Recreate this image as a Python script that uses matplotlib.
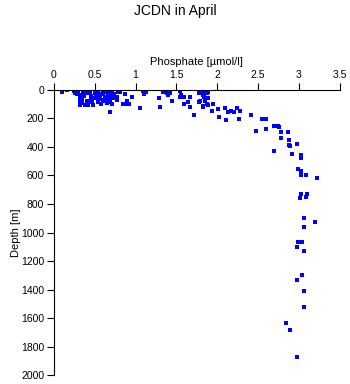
import matplotlib
matplotlib.use("Agg")
import matplotlib.pyplot as plt

# phosphate [umol/l] and depth [m]
phosphate = [0.10, 0.16, 0.24, 0.26, 0.30, 0.32, 0.32, 0.32, 0.32, 0.38, 0.42, 0.43, 0.48,
             0.36, 0.40, 0.44, 0.46, 0.50, 0.54, 0.52, 0.56, 0.54, 0.58, 0.60, 0.62, 0.65,
             0.65, 0.66, 0.69, 0.69, 0.71, 0.71, 0.73, 0.77, 0.77, 0.79, 0.81, 0.69, 0.87,
             0.90, 0.84, 0.89, 0.92, 0.95, 1.05, 1.09, 1.10, 1.13, 1.29, 1.30, 1.34, 1.38,
             1.40, 1.42, 1.44, 1.54, 1.56, 1.54, 1.59, 1.59, 1.66, 1.64, 1.66, 1.71, 1.77,
             1.77, 1.82, 0.28, 0.34, 0.37, 0.45, 0.48, 0.52, 0.57, 0.60, 0.63, 0.67, 0.70,
             0.74, 0.35, 0.41, 0.47, 0.55, 0.58, 0.62, 0.68, 0.72, 0.30, 0.50, 0.66,
             1.83, 1.89, 1.82, 1.88, 1.84, 1.89, 1.85, 1.79, 1.87, 1.89, 1.82, 1.95, 2.01,
             1.93, 2.09, 2.02, 2.11, 2.13, 2.17, 2.21, 2.24, 2.28, 2.26, 2.41, 2.47, 2.55,
             2.59, 2.59, 2.70, 2.74, 2.76, 2.78, 2.86, 2.78, 2.70, 2.88, 2.88, 2.89, 2.98,
             2.92, 3.03, 3.03, 2.99, 3.03, 3.03, 3.09, 3.22, 3.03, 3.10, 3.01, 3.09, 3.06,
             3.19, 3.06, 2.99, 3.04, 2.98, 3.06, 3.04, 2.98, 3.06, 3.06, 2.84, 2.89, 2.97]
depth = [14, 2, 7, 19, 7, 35, 54, 82, 103, 103, 103, 82, 103,
         12, 23, 12, 42, 23, 12, 58, 47, 82, 98, 23, 58, 12,
         93, 35, 58, 82, 98, 12, 28, 47, 70, 16, 16, 152, 30,
         75, 100, 100, 100, 51, 129, 5, 28, 16, 54, 121, 12, 23,
         35, 19, 77, 5, 35, 47, 47, 100, 47, 86, 117, 175, 23,
         82, 117, 30, 65, 40, 70, 60, 30, 40, 70, 50, 45, 30,
         60, 90, 75, 85, 65, 30, 80, 65, 45, 20, 5, 5,
         5, 12, 35, 23, 51, 54, 77, 77, 98, 107, 112, 100, 133,
         150, 129, 192, 211, 154, 147, 152, 129, 150, 201, 178, 288, 206,
         204, 276, 253, 253, 262, 297, 292, 337, 430, 353, 386, 395, 381,
         451, 458, 479, 552, 571, 596, 599, 618, 732, 732, 760, 753, 901,
         928, 959, 1069, 1067, 1104, 1132, 1300, 1336, 1413, 1525, 1637, 1682, 1876]

x_ticks = [0, 0.5, 1, 1.5, 2, 2.5, 3, 3.5]
x_labels = ["0", "0.5", "1", "1.5", "2", "2.5", "3", "3.5"]
y_ticks = [0, 200, 400, 600, 800, 1000, 1200, 1400, 1600, 1800, 2000]

plt.rcParams["font.family"] = ["Liberation Sans", "DejaVu Sans"]

fig = plt.figure(figsize=(3.5, 3.84), dpi=100)
ax = fig.add_axes([0.154, 0.023, 0.817, 0.743])
ax.plot(phosphate, depth, "s", color="#0000ff", ms=2.2, mew=0, antialiased=False)

ax.set_xlim(0, 3.5)
ax.set_ylim(2000, 0)
ax.set_xticks(x_ticks)
ax.set_xticklabels(x_labels)
ax.set_yticks(y_ticks)
ax.xaxis.tick_top()
ax.xaxis.set_label_position("top")
ax.tick_params(axis="both", direction="out", length=5, width=0.8, labelsize=7.5, pad=2)
for s in ["bottom", "right"]:
    ax.spines[s].set_visible(False)
for s in ["top", "left"]:
    ax.spines[s].set_linewidth(0.8)

ax.set_xlabel("Phosphate [µmol/l]", fontsize=8, labelpad=4)
ax.set_ylabel("Depth [m]", fontsize=8, labelpad=0)
fig.suptitle("JCDN in April", fontsize=10, y=0.99)

fig.savefig("out.png", dpi=100)
